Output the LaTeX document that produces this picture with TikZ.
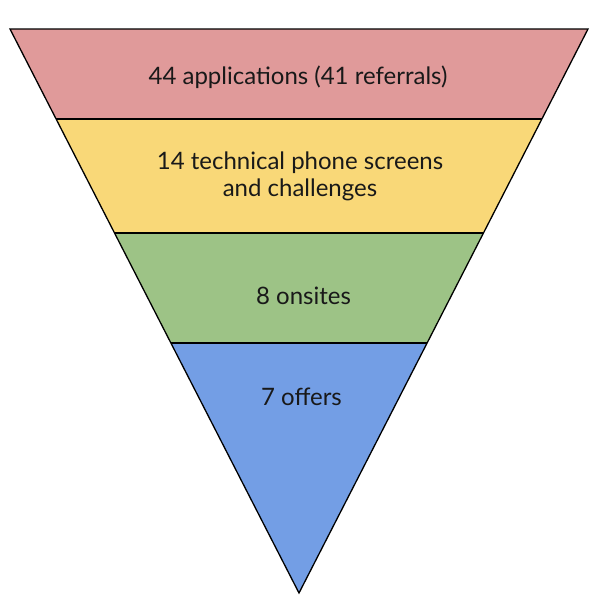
\documentclass[tikz,border=0pt]{standalone}
\usepackage{fontspec}
\setmainfont{Lato}
\begin{document}
\begin{tikzpicture}[x=1pt,y=-1pt,
  band/.style={draw=black, line width=1.3pt, line join=miter},
  lbl/.style={font=\fontsize{24}{27}\selectfont, text=black!90, align=center}]
\definecolor{cred}{RGB}{224,154,154}
\definecolor{cyel}{RGB}{249,216,120}
\definecolor{cgrn}{RGB}{157,195,134}
\definecolor{cblu}{RGB}{115,158,229}
\useasboundingbox (0,0) rectangle (600,606);
\coordinate (TL) at (10,29);
\coordinate (TR) at (588,29);
\coordinate (A) at (299,593);
\coordinate (L1) at (56.1,119); \coordinate (R1) at (541.9,119);
\coordinate (L2) at (114.5,233); \coordinate (R2) at (483.5,233);
\coordinate (L3) at (170.9,343); \coordinate (R3) at (427.1,343);
\fill[cred] (TL) -- (TR) -- (R1) -- (L1) -- cycle;
\fill[cyel] (L1) -- (R1) -- (R2) -- (L2) -- cycle;
\fill[cgrn] (L2) -- (R2) -- (R3) -- (L3) -- cycle;
\fill[cblu] (L3) -- (R3) -- (A) -- cycle;
\draw[band] (TL) -- (TR) -- (A) -- cycle;
\draw[band] (L1) -- (R1);
\draw[band] (L2) -- (R2);
\draw[band] (L3) -- (R3);
\node[lbl] (t1) at (298,77) {44 applications (41 referrals)};
\node[lbl] (t2) at (300,176) {14 technical phone screens\\and challenges};
\node[lbl] (t3) at (303.5,296) {8 onsites};
\node[lbl] (t4) at (301.5,397) {7 offers};
\end{tikzpicture}
\end{document}
